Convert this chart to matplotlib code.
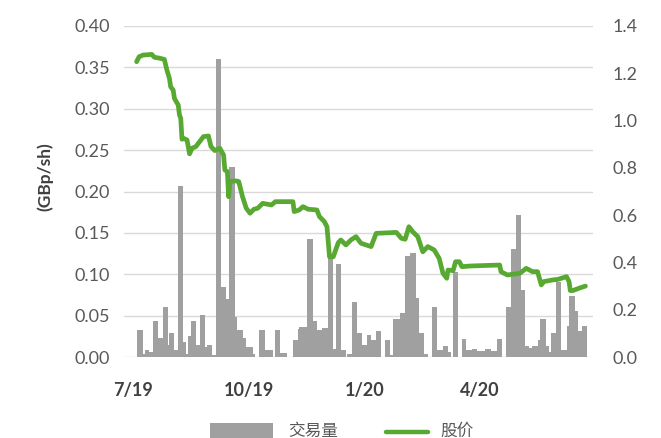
import numpy as np
import pandas as pd
import matplotlib
matplotlib.use("Agg")
import matplotlib.pyplot as plt
import matplotlib.dates as mdates
from matplotlib.patches import Rectangle
from matplotlib.lines import Line2D

# ---------------- data ----------------
bar_starts = [
    "2019-07-04", "2019-07-09", "2019-07-11", "2019-07-14", "2019-07-17", "2019-07-21", "2019-07-25", "2019-07-29", "2019-07-30", "2019-08-03",
    "2019-08-06", "2019-08-10", "2019-08-12", "2019-08-14", "2019-08-16", "2019-08-20", "2019-08-23", "2019-08-27", "2019-08-29", "2019-09-02",
    "2019-09-05", "2019-09-09", "2019-09-13", "2019-09-15", "2019-09-20", "2019-09-22", "2019-09-26", "2019-09-29", "2019-10-04", "2019-10-06",
    "2019-10-09", "2019-10-14", "2019-10-20", "2019-10-22", "2019-10-26", "2019-10-31", "2019-11-05", "2019-11-09", "2019-11-10", "2019-11-16",
    "2019-11-21", "2019-11-24", "2019-11-28", "2019-12-03", "2019-12-07", "2019-12-09", "2019-12-13", "2019-12-17", "2019-12-18", "2019-12-22",
    "2019-12-26", "2019-12-30", "2020-01-03", "2020-01-06", "2020-01-10", "2020-01-14", "2020-01-17", "2020-01-21", "2020-01-23", "2020-01-29",
    "2020-02-02", "2020-02-06", "2020-02-11", "2020-02-13", "2020-02-17", "2020-02-20", "2020-02-23", "2020-02-27", "2020-03-03", "2020-03-07",
    "2020-03-09", "2020-03-11", "2020-03-15", "2020-03-18", "2020-03-21", "2020-03-26", "2020-03-30", "2020-04-05", "2020-04-10", "2020-04-15",
    "2020-04-19", "2020-04-22", "2020-04-26", "2020-04-30", "2020-05-04", "2020-05-07", "2020-05-10", "2020-05-13", "2020-05-17", "2020-05-19",
    "2020-05-24", "2020-05-26", "2020-05-28", "2020-06-01", "2020-06-05", "2020-06-09", "2020-06-11", "2020-06-16", "2020-06-18", "2020-06-21",
]
bar_end = "2020-06-25"
volume = [
    0.033, 0.004, 0.008, 0.006, 0.043, 0.023, 0.060, 0.014, 0.029, 0.009,
    0.207, 0.018, 0.004, 0.025, 0.043, 0.014, 0.051, 0.012, 0.014, 0.003,
    0.360, 0.084, 0.070, 0.230, 0.048, 0.033, 0.023, 0.012, 0.004, 0.000,
    0.033, 0.008, 0.000, 0.033, 0.005, 0.000, 0.021, 0.034, 0.036, 0.143,
    0.043, 0.033, 0.035, 0.122, 0.010, 0.112, 0.008, 0.000, 0.004, 0.067,
    0.029, 0.014, 0.026, 0.020, 0.032, 0.000, 0.020, 0.003, 0.046, 0.053,
    0.122, 0.126, 0.071, 0.029, 0.004, 0.000, 0.061, 0.008, 0.013, 0.006,
    0.000, 0.103, 0.000, 0.022, 0.009, 0.010, 0.007, 0.010, 0.007, 0.022,
    0.000, 0.060, 0.130, 0.172, 0.081, 0.013, 0.011, 0.013, 0.020, 0.046,
    0.013, 0.006, 0.029, 0.091, 0.008, 0.038, 0.074, 0.056, 0.031, 0.038,
]

price_dates = [
    "2019-07-04", "2019-07-06", "2019-07-09", "2019-07-16", "2019-07-18", "2019-07-22", "2019-07-26", "2019-07-28", "2019-07-30", "2019-07-31",
    "2019-08-02", "2019-08-03", "2019-08-04", "2019-08-06", "2019-08-07", "2019-08-08", "2019-08-09", "2019-08-10", "2019-08-13", "2019-08-15",
    "2019-08-17", "2019-08-20", "2019-08-23", "2019-08-26", "2019-08-30", "2019-09-01", "2019-09-04", "2019-09-08", "2019-09-11", "2019-09-12",
    "2019-09-14", "2019-09-15", "2019-09-16", "2019-09-21", "2019-09-23", "2019-09-26", "2019-09-29", "2019-10-02", "2019-10-05", "2019-10-08",
    "2019-10-12", "2019-10-19", "2019-10-22", "2019-11-05", "2019-11-06", "2019-11-10", "2019-11-13", "2019-11-17", "2019-11-24", "2019-11-26",
    "2019-11-30", "2019-12-02", "2019-12-04", "2019-12-07", "2019-12-11", "2019-12-13", "2019-12-17", "2019-12-21", "2019-12-25", "2019-12-29",
    "2020-01-06", "2020-01-10", "2020-01-26", "2020-01-30", "2020-02-02", "2020-02-05", "2020-02-08", "2020-02-12", "2020-02-16", "2020-02-20",
    "2020-02-25", "2020-02-29", "2020-03-03", "2020-03-06", "2020-03-07", "2020-03-11", "2020-03-13", "2020-03-16", "2020-03-18", "2020-03-25",
    "2020-04-17", "2020-04-18", "2020-04-23", "2020-05-03", "2020-05-08", "2020-05-13", "2020-05-17", "2020-05-20", "2020-05-22", "2020-05-29",
    "2020-06-02", "2020-06-09", "2020-06-11", "2020-06-12", "2020-06-14", "2020-06-19", "2020-06-24",
]
price = [
    1.249, 1.270, 1.277, 1.280, 1.268, 1.264, 1.259, 1.214, 1.179, 1.143,
    1.129, 1.094, 1.084, 1.066, 1.024, 1.010, 0.921, 0.925, 0.918, 0.859,
    0.883, 0.890, 0.911, 0.932, 0.935, 0.890, 0.873, 0.883, 0.854, 0.791,
    0.784, 0.678, 0.742, 0.745, 0.742, 0.678, 0.629, 0.608, 0.625, 0.629,
    0.650, 0.643, 0.657, 0.657, 0.615, 0.622, 0.636, 0.625, 0.622, 0.594,
    0.572, 0.551, 0.424, 0.424, 0.484, 0.495, 0.474, 0.495, 0.509, 0.481,
    0.467, 0.523, 0.527, 0.502, 0.498, 0.551, 0.530, 0.509, 0.445, 0.467,
    0.453, 0.417, 0.354, 0.333, 0.368, 0.365, 0.403, 0.403, 0.382, 0.385,
    0.389, 0.361, 0.347, 0.354, 0.375, 0.361, 0.361, 0.305, 0.319, 0.326,
    0.328, 0.340, 0.319, 0.281, 0.281, 0.291, 0.300,
]

x_range = ["2019-06-24", "2020-06-30"]
tick_dates = ["2019-07-01", "2019-10-01", "2020-01-01", "2020-04-01"]
tick_labels = ["7/19", "10/19", "1/20", "4/20"]
left_ticks = [0.00, 0.05, 0.10, 0.15, 0.20, 0.25, 0.30, 0.35, 0.40]
right_ticks = [0.0, 0.2, 0.4, 0.6, 0.8, 1.0, 1.2, 1.4]
left_label = "(GBp/sh)"
legend_labels = ["交易量", "股价"]

# ---------------- styling ----------------
W, H = 661, 438
BAR_C = "#a0a0a0"
LINE_C = "#58a932"
TXT_C = "#595959"
GRID_C = "#d9d9d9"
NUM_FONT = ["Lato", "DejaVu Sans"]
CJK_FONT = ["Noto Sans CJK SC", "DejaVu Sans"]

fig = plt.figure(figsize=(W / 100, H / 100), dpi=100)
ax = fig.add_axes([124 / W, 1 - 357 / H, (593 - 124) / W, (357 - 26) / H])
ax2 = ax.twinx()

starts = mdates.date2num(pd.to_datetime(bar_starts).to_pydatetime())
end = mdates.date2num(pd.to_datetime([bar_end]).to_pydatetime())[0]
edges = np.append(starts, end)
widths = np.diff(edges)
ax.bar(starts, volume, width=widths, align="edge", color=BAR_C, linewidth=0, zorder=2)

px = mdates.date2num(pd.to_datetime(price_dates).to_pydatetime())
ax2.plot(px, price, color=LINE_C, lw=3.4, solid_joinstyle="round", solid_capstyle="round", zorder=3)

xr = mdates.date2num(pd.to_datetime(x_range).to_pydatetime())
ax.set_xlim(xr[0], xr[1])
ax.set_ylim(0, 0.40)
ax2.set_ylim(0, 1.4)

ax.set_yticks(left_ticks)
ax.set_yticklabels([f"{v:.2f}" for v in left_ticks], fontfamily=NUM_FONT, fontsize=13, color=TXT_C)
ax2.set_yticks(right_ticks)
ax2.set_yticklabels([f"{v:.1f}" for v in right_ticks], fontfamily=NUM_FONT, fontsize=13, color=TXT_C)
tx = mdates.date2num(pd.to_datetime(tick_dates).to_pydatetime())
ax.set_xticks(tx)
ax.set_xticklabels(tick_labels, fontfamily=NUM_FONT, fontsize=13, fontweight="bold", color="#404040")

ax.tick_params(axis="y", length=0, pad=10)
ax2.tick_params(axis="y", length=0, pad=14)
ax.tick_params(axis="x", length=0, pad=18)

ax.grid(axis="y", color=GRID_C, lw=1.0, zorder=0)
ax.set_axisbelow(True)
for a in (ax, ax2):
    for s in a.spines.values():
        s.set_visible(False)

fig.text(45 / W, 1 - 177 / H, left_label, rotation=90, ha="center", va="center",
         fontfamily=NUM_FONT, fontsize=12.5, fontweight="bold", color="#404040")

# legend (manual, bottom centre)
fig.add_artist(Rectangle((210 / W, 1 - 440 / H), 63 / W, 17 / H, transform=fig.transFigure,
                         facecolor=BAR_C, edgecolor="none"))
fig.text(288 / W, 1 - 431 / H, legend_labels[0], ha="left", va="center",
         fontfamily=CJK_FONT, fontsize=12, color=TXT_C)
fig.add_artist(Line2D([386 / W, 428 / W], [1 - 432 / H, 1 - 432 / H], transform=fig.transFigure,
                      color=LINE_C, lw=3.2, solid_capstyle="round"))
fig.text(440 / W, 1 - 431 / H, legend_labels[1], ha="left", va="center",
         fontfamily=CJK_FONT, fontsize=12, color=TXT_C)

fig.savefig("out.png", dpi=100)
